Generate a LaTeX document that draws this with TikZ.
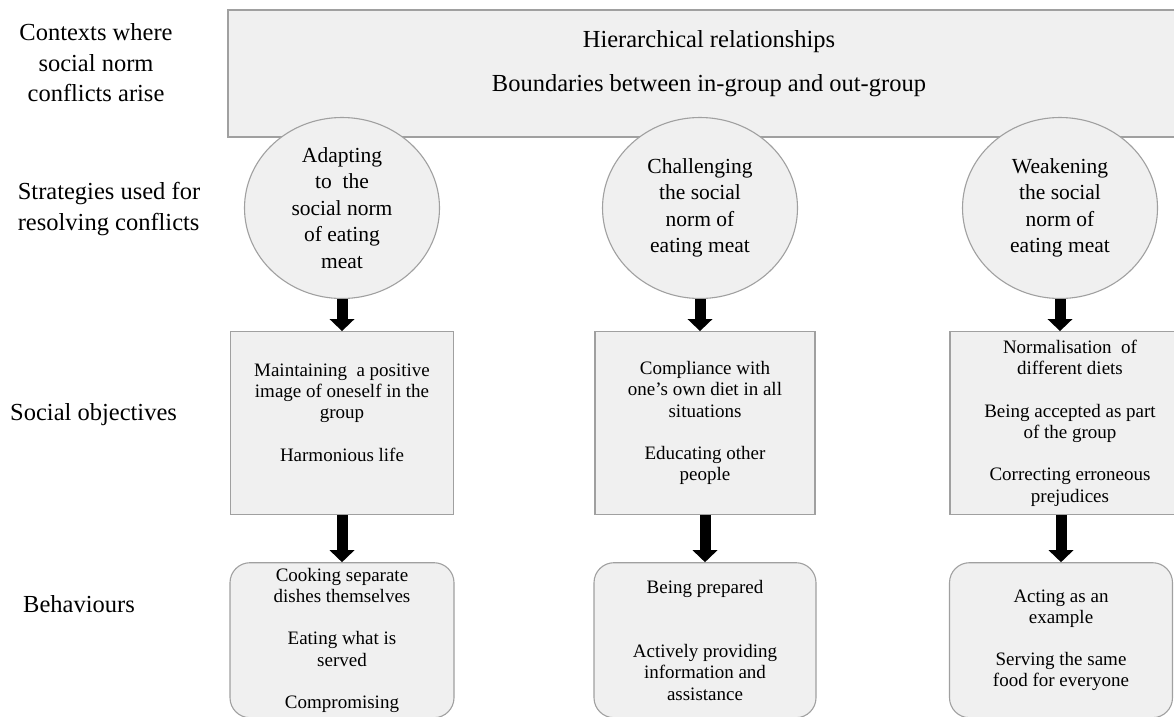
\documentclass[tikz,border=0pt]{standalone}
\usepackage{fontspec}
\setmainfont{Liberation Serif}
\usetikzlibrary{positioning, shapes, arrows.meta}
\definecolor{boxfill}{HTML}{F0F0F0}
\definecolor{boxline}{HTML}{A0A0A0}

\begin{document}
\begin{tikzpicture}[x=1pt, y=-1pt]
\tikzstyle{frame}=[rectangle, draw=boxline, fill=boxfill, line width=1.1pt, inner sep=0pt, align=center]
\tikzstyle{strategy}=[frame, ellipse, minimum width=195pt, minimum height=181pt, font=\fontsize{21.5}{26.5}\selectfont]
\tikzstyle{goal}=[frame, minimum height=183pt, font=\fontsize{19}{21.3}\selectfont]
\tikzstyle{behaviour}=[goal, rounded corners=20pt, minimum height=155pt]
\tikzstyle{rowlabel}=[inner sep=0pt, font=\fontsize{24.5}{30.5}\selectfont]
\tikzstyle{connect}=[draw, line width=11pt, -{Triangle[width=25pt, length=12pt, line width=0pt 0 0]}]
\useasboundingbox (0,0) rectangle (1174,716);
% row labels
\node[rowlabel, align=center] (contextlab) at (96,63) {Contexts where\\social norm\\conflicts arise};
\node[rowlabel, align=left] (strategylab) at (109,209) {Strategies used for\\resolving conflicts};
\node[rowlabel, anchor=base west] (goallab) at (10,420) {Social objectives};
\node[rowlabel, anchor=base west] (behaviourlab) at (23,612) {Behaviours};
% contexts
\node[frame, minimum width=962pt, minimum height=127pt, font=\fontsize{24.5}{30.5}\selectfont] (contexts) at (709,73.5) {Hierarchical relationships\\[13pt]Boundaries between in-group and out-group\\[-5pt]\mbox{}};
% strategies
\node[strategy] (adapt) at (342,208) {Adapting\\to~~the\\social norm\\of eating\\meat};
\node[strategy] (challenge) at (700,208) {Challenging\\the social\\norm of\\eating meat};
\node[strategy] (weaken) at (1060,208) {Weakening\\the social\\norm of\\eating meat};
% social objectives
\node[goal, minimum width=223pt] (selfimage) [below=32pt of adapt] {Maintaining~~a positive\\image of oneself in the\\group\\[21pt]Harmonious life\\\mbox{}};
\node[goal, minimum width=220pt] (compliance) [below=32pt of challenge, xshift=5pt] {Compliance with\\one's own diet in all\\situations\\[21pt]Educating other\\people};
\node[goal, minimum width=240pt] (normalise) [below=32pt of weaken, xshift=10pt] {Normalisation~~of\\different diets\\[21pt]Being accepted as part\\of the group\\[21pt]Correcting erroneous\\prejudices};
% behaviours
\node[behaviour, minimum width=224pt] (cooking) [below=47pt of selfimage] {Cooking separate\\dishes themselves\\[21pt]Eating what is\\served\\[21pt]Compromising};
\node[behaviour, minimum width=222pt] (prepared) [below=47pt of compliance] {Being prepared\\[43pt]Actively providing\\information and\\assistance};
\node[behaviour, minimum width=223pt] (example) [below=47pt of normalise, xshift=-9pt] {Acting as an\\example\\[21pt]Serving the same\\food for everyone};
% arrows
\draw[connect] (adapt.south) -- (adapt.south |- selfimage.north);
\draw[connect] (challenge.south) -- (challenge.south |- compliance.north);
\draw[connect] (weaken.south) -- (weaken.south |- normalise.north);
\draw[connect] (selfimage.south) -- (selfimage.south |- cooking.north);
\draw[connect] (compliance.south) -- (compliance.south |- prepared.north);
\draw[connect] (example.north |- normalise.south) -- (example.north);
\end{tikzpicture}
\end{document}
